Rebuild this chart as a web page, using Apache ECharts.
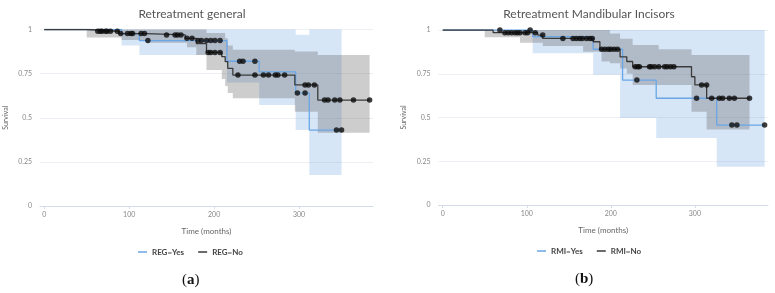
<!DOCTYPE html>
<html>
<head>
<meta charset="utf-8">
<script src="https://cdn.jsdelivr.net/npm/echarts@6/dist/echarts.min.js"></script>
<style>
  html, body { margin: 0; padding: 0; background: #fff; }
  #main { width: 775px; height: 293px; }
</style>
</head>
<body>
<div id="main"></div>
<script>
// tick positions on the time axis
var timeTicks = [0, 100, 200, 300]

// ---- (a) Retreatment general ----
// Kaplan-Meier steps, REG=No
var regNoTime = [0, 50, 88, 120, 166, 179, 191, 209, 213, 216, 222, 295, 322, 383]
var regNoSurv = [1, 0.99, 0.977, 0.969, 0.95, 0.92, 0.87, 0.846, 0.818, 0.78, 0.742, 0.686, 0.60, 0.60]
// confidence band, REG=No
var regNoBandTime = [50, 91, 120, 168, 179, 191, 209, 213, 216, 222, 295, 322, 383]
var regNoBandLow = [0.955, 0.94, 0.925, 0.90, 0.855, 0.77, 0.72, 0.68, 0.64, 0.61, 0.534, 0.415, 0.415]
var regNoBandHigh = [1, 1, 1, 1, 1, 0.98, 0.98, 0.95, 0.91, 0.885, 0.875, 0.855, 0.855]
// censored, REG=No
var regNoCensTime = [63, 66, 68, 72, 74, 78, 86, 90, 98, 102, 104, 114, 118, 144, 154, 157, 161, 168, 174, 193, 196, 201, 207, 228, 248, 258, 264, 272, 275, 283, 307, 311, 318, 330, 334, 342, 348, 364, 383]
var regNoCensSurv = [0.99, 0.99, 0.99, 0.99, 0.99, 0.99, 0.99, 0.977, 0.977, 0.977, 0.977, 0.977, 0.977, 0.969, 0.969, 0.969, 0.969, 0.95, 0.95, 0.87, 0.87, 0.87, 0.87, 0.742, 0.742, 0.742, 0.742, 0.742, 0.742, 0.742, 0.686, 0.686, 0.686, 0.60, 0.60, 0.60, 0.60, 0.60, 0.60]

// Kaplan-Meier steps, REG=Yes
var regYesTime = [0, 91, 112, 215, 253, 296, 312, 350]
var regYesSurv = [1, 0.975, 0.937, 0.82, 0.76, 0.64, 0.43, 0.43]
var regYesBandTime = [91, 112, 215, 253, 296, 312, 350]
var regYesBandLow = [0.91, 0.855, 0.70, 0.572, 0.43, 0.175, 0.175]
var regYesBandHigh = [1, 1, 1, 1, 0.97, 1, 1]
var regYesCensTime = [122, 181, 185, 191, 196, 201, 207, 230, 234, 248, 298, 307, 344, 350]
var regYesCensSurv = [0.937, 0.937, 0.937, 0.937, 0.937, 0.937, 0.937, 0.82, 0.82, 0.82, 0.64, 0.64, 0.43, 0.43]

// ---- (b) Retreatment Mandibular Incisors ----
var rmiNoTime = [0, 60, 113, 119, 179, 187, 211, 219, 226, 296, 300, 314, 365]
var rmiNoSurv = [1, 0.985, 0.971, 0.952, 0.933, 0.89, 0.847, 0.82, 0.79, 0.733, 0.686, 0.61, 0.61]
var rmiNoBandTime = [50, 92, 119, 167, 189, 199, 211, 219, 226, 257, 296, 314, 365]
var rmiNoBandLow = [0.958, 0.927, 0.909, 0.876, 0.82, 0.81, 0.78, 0.75, 0.686, 0.686, 0.533, 0.432, 0.432]
var rmiNoBandHigh = [1, 1, 1, 1, 1, 0.98, 0.95, 0.95, 0.914, 0.89, 0.857, 0.857, 0.857]
var rmiNoCensTime = [74, 78, 82, 86, 89, 92, 98, 101, 110, 119, 143, 155, 159, 163, 166, 171, 175, 178, 189, 193, 197, 200, 204, 208, 229, 232, 234, 246, 248, 252, 257, 264, 267, 271, 275, 308, 314, 320, 329, 333, 341, 347, 365]
var rmiNoCensSurv = [0.985, 0.985, 0.985, 0.985, 0.985, 0.985, 0.985, 0.985, 0.985, 0.971, 0.952, 0.952, 0.952, 0.952, 0.952, 0.952, 0.952, 0.952, 0.89, 0.89, 0.89, 0.89, 0.89, 0.89, 0.79, 0.79, 0.79, 0.79, 0.79, 0.79, 0.79, 0.79, 0.79, 0.79, 0.79, 0.686, 0.686, 0.61, 0.61, 0.61, 0.61, 0.61, 0.61]

var rmiYesTime = [0, 107, 179, 214, 254, 326, 383]
var rmiYesSurv = [1, 0.962, 0.89, 0.714, 0.61, 0.457, 0.457]
var rmiYesBandTime = [107, 179, 211, 254, 326, 383]
var rmiYesBandLow = [0.867, 0.745, 0.497, 0.383, 0.219, 0.219]
var rmiYesBandHigh = [1, 1, 1, 1, 1, 1]
var rmiYesCensTime = [68, 104, 231, 302, 344, 350, 383]
var rmiYesCensSurv = [1, 1, 0.714, 0.61, 0.457, 0.457, 0.457]

var blue = '#6aa6e6'
var dark = '#3a3a3a'

function pairs (xs, ys) {
  var out = []
  for (var i = 0; i < xs.length; i++) {
    out.push([xs[i], ys[i]])
  }
  return out
}

// step band drawn as one polygon through the axis scales
function bandSeries (idx, times, low, high, fill) {
  return {
    type: 'custom',
    xAxisIndex: idx,
    yAxisIndex: idx,
    silent: true,
    data: [[times[0], low[0]]],
    renderItem: function (params, api) {
      var pts = []
      for (var i = 0; i < times.length - 1; i++) {
        pts.push(api.coord([times[i], high[i]]))
        pts.push(api.coord([times[i + 1], high[i]]))
      }
      for (var j = times.length - 2; j >= 0; j--) {
        pts.push(api.coord([times[j + 1], low[j]]))
        pts.push(api.coord([times[j], low[j]]))
      }
      return {
        type: 'polygon',
        shape: { points: pts },
        style: { fill: fill }
      }
    },
    z: 1
  }
}

function stepSeries (idx, name, times, surv, color) {
  return {
    name: name,
    type: 'line',
    xAxisIndex: idx,
    yAxisIndex: idx,
    step: 'end',
    showSymbol: false,
    lineStyle: { color: color, width: 1.3 },
    itemStyle: { color: color },
    data: pairs(times, surv),
    z: 3
  }
}

function censSeries (idx, times, surv) {
  return {
    type: 'scatter',
    xAxisIndex: idx,
    yAxisIndex: idx,
    symbolSize: 5.5,
    itemStyle: { color: '#0d0d0d' },
    data: pairs(times, surv),
    z: 4
  }
}

function xAxisOf (idx) {
  return {
    type: 'value',
    gridIndex: idx,
    min: -5,
    max: 387,
    name: 'Time (months)',
    nameLocation: 'middle',
    nameGap: 21,
    nameTextStyle: { color: '#666', fontSize: 8, fontFamily: 'Lato' },
    axisLine: { lineStyle: { color: '#d3dce8' } },
    axisTick: { show: true, customValues: timeTicks, length: 3, lineStyle: { color: '#d3dce8' } },
    axisLabel: { customValues: timeTicks, color: '#888', fontSize: 7, margin: 5, fontFamily: 'Lato' },
    splitLine: { show: false }
  }
}

function yAxisOf (idx) {
  return {
    type: 'value',
    gridIndex: idx,
    min: 0,
    max: 1,
    interval: 0.25,
    name: 'Survival',
    nameLocation: 'middle',
    nameGap: 31,
    nameRotate: 90,
    nameTextStyle: { color: '#666', fontSize: 7, fontFamily: 'Lato' },
    axisLine: { show: false },
    axisTick: { show: false },
    axisLabel: { color: '#888', fontSize: 7, margin: 8, fontFamily: 'Lato' },
    splitLine: { lineStyle: { color: '#eceff3' } }
  }
}

var myChart = echarts.init(document.getElementById('main'), null, { renderer: 'canvas' })

var option = {
  animation: false,
  backgroundColor: '#fff',
  title: [
    {
      text: 'Retreatment general',
      left: 187,
      top: 3,
      textAlign: 'center',
      textStyle: { color: '#555', fontSize: 12, fontWeight: 'normal', fontFamily: 'Lato' }
    },
    {
      text: 'Retreatment Mandibular Incisors',
      left: 584,
      top: 3,
      textAlign: 'center',
      textStyle: { color: '#555', fontSize: 12, fontWeight: 'normal', fontFamily: 'Lato' }
    }
  ],
  legend: [
    {
      left: 133,
      top: 243,
      icon: 'rect',
      itemWidth: 9,
      itemHeight: 1.5,
      itemGap: 14,
      data: ['REG=Yes', 'REG=No'],
      textStyle: { color: '#444', fontSize: 8, fontWeight: 'bold', fontFamily: 'Lato' }
    },
    {
      left: 532,
      top: 242,
      icon: 'rect',
      itemWidth: 9,
      itemHeight: 1.5,
      itemGap: 14,
      data: ['RMI=Yes', 'RMI=No'],
      textStyle: { color: '#444', fontSize: 8, fontWeight: 'bold', fontFamily: 'Lato' }
    }
  ],
  grid: [
    { left: 40, right: 402, top: 29.5, bottom: 87 },
    { left: 438.5, right: 7, top: 30, bottom: 88 }
  ],
  xAxis: [xAxisOf(0), xAxisOf(1)],
  yAxis: [yAxisOf(0), yAxisOf(1)],
  graphic: [
    {
      type: 'text',
      left: 182,
      top: 273,
      style: {
        text: '({a|a})',
        fill: '#111',
        font: '15px "Liberation Serif"',
        rich: { a: { fontWeight: 'bold', fontSize: 15, fontFamily: 'Liberation Serif' } }
      }
    },
    {
      type: 'text',
      left: 575,
      top: 272,
      style: {
        text: '({a|b})',
        fill: '#111',
        font: '15px "Liberation Serif"',
        rich: { a: { fontWeight: 'bold', fontSize: 15, fontFamily: 'Liberation Serif' } }
      }
    }
  ],
  series: [
    bandSeries(0, regYesBandTime, regYesBandLow, regYesBandHigh, 'rgba(100,160,225,0.26)'),
    bandSeries(0, regNoBandTime, regNoBandLow, regNoBandHigh, 'rgba(90,90,90,0.3)'),
    stepSeries(0, 'REG=Yes', regYesTime, regYesSurv, blue),
    stepSeries(0, 'REG=No', regNoTime, regNoSurv, dark),
    censSeries(0, regYesCensTime, regYesCensSurv),
    censSeries(0, regNoCensTime, regNoCensSurv),

    bandSeries(1, rmiYesBandTime, rmiYesBandLow, rmiYesBandHigh, 'rgba(100,160,225,0.26)'),
    bandSeries(1, rmiNoBandTime, rmiNoBandLow, rmiNoBandHigh, 'rgba(90,90,90,0.3)'),
    stepSeries(1, 'RMI=Yes', rmiYesTime, rmiYesSurv, blue),
    stepSeries(1, 'RMI=No', rmiNoTime, rmiNoSurv, dark),
    censSeries(1, rmiYesCensTime, rmiYesCensSurv),
    censSeries(1, rmiNoCensTime, rmiNoCensSurv)
  ]
}
myChart.setOption(option)
</script>
</body>
</html>
